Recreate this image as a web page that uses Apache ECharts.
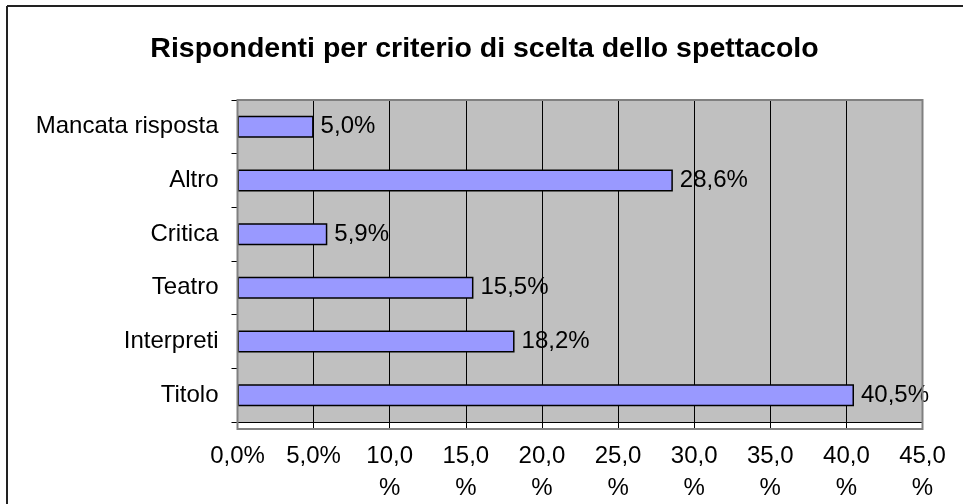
<!DOCTYPE html>
<html>
<head>
<meta charset="utf-8">
<script src="https://cdn.jsdelivr.net/npm/echarts@6/dist/echarts.min.js"></script>
<style>html,body{margin:0;padding:0;background:#fff;}#c{width:969px;height:504px;}</style>
</head>
<body>
<div id="c"></div>
<script>
var categories = ["Titolo", "Interpreti", "Teatro", "Critica", "Altro", "Mancata risposta"];
var values = [40.5, 18.2, 15.5, 5.9, 28.6, 5.0];
var tickLabels = ["0,0%", "5,0%", "10,0\n%", "15,0\n%", "20,0\n%", "25,0\n%", "30,0\n%", "35,0\n%", "40,0\n%", "45,0\n%"];
var title = "Rispondenti per criterio di scelta dello spettacolo";

var chart = echarts.init(document.getElementById('c'));
var font = 'Liberation Sans, Arial, sans-serif';
chart.setOption({
  animation: false,
  backgroundColor: '#fff',
  title: {
    text: title, left: 'center', top: 30,
    textStyle: {fontFamily: font, fontSize: 28.5, fontWeight: 'bold', color: '#000'}
  },
  graphic: [
    {type: 'line', shape: {x1: 7, y1: 6, x2: 963, y2: 6}, style: {stroke: '#222', lineWidth: 2}},
    {type: 'line', shape: {x1: 7, y1: 6, x2: 7, y2: 504}, style: {stroke: '#222', lineWidth: 2}},
    {type: 'rect', shape: {x: 237.5, y: 100, width: 685, height: 329}, style: {fill: 'none', stroke: '#808080', lineWidth: 2}, z: 100}
  ],
  grid: {left: 237.5, right: 46.5, top: 100, bottom: 75, backgroundColor: '#C0C0C0', show: true, borderWidth: 0},
  xAxis: {
    type: 'value', min: 0, max: 45, interval: 5,
    axisLine: {show: true, lineStyle: {color: '#000', width: 1}},
    axisTick: {show: true, length: 6, lineStyle: {color: '#000'}},
    splitLine: {show: true, lineStyle: {color: '#000', width: 1}},
    axisLabel: {
      fontFamily: font, fontSize: 24, color: '#000', margin: 18, lineHeight: 32,
      formatter: function (v) { return tickLabels[Math.round(v / 5)]; }
    }
  },
  yAxis: {
    type: 'category', data: categories,
    axisLine: {show: true, lineStyle: {color: '#000', width: 1}},
    axisTick: {show: true, length: 6, lineStyle: {color: '#000'}},
    axisLabel: {fontFamily: font, fontSize: 24, color: '#000', margin: 19}
  },
  series: [{
    type: 'bar', data: values, barWidth: 22,
    itemStyle: {color: '#9999FF', borderColor: '#000', borderWidth: 1.5},
    label: {
      show: true, position: 'right', distance: 7,
      fontFamily: font, fontSize: 24, color: '#000',
      formatter: function (p) { return p.value.toFixed(1).replace('.', ',') + '%'; }
    }
  }]
});
</script>
</body>
</html>
